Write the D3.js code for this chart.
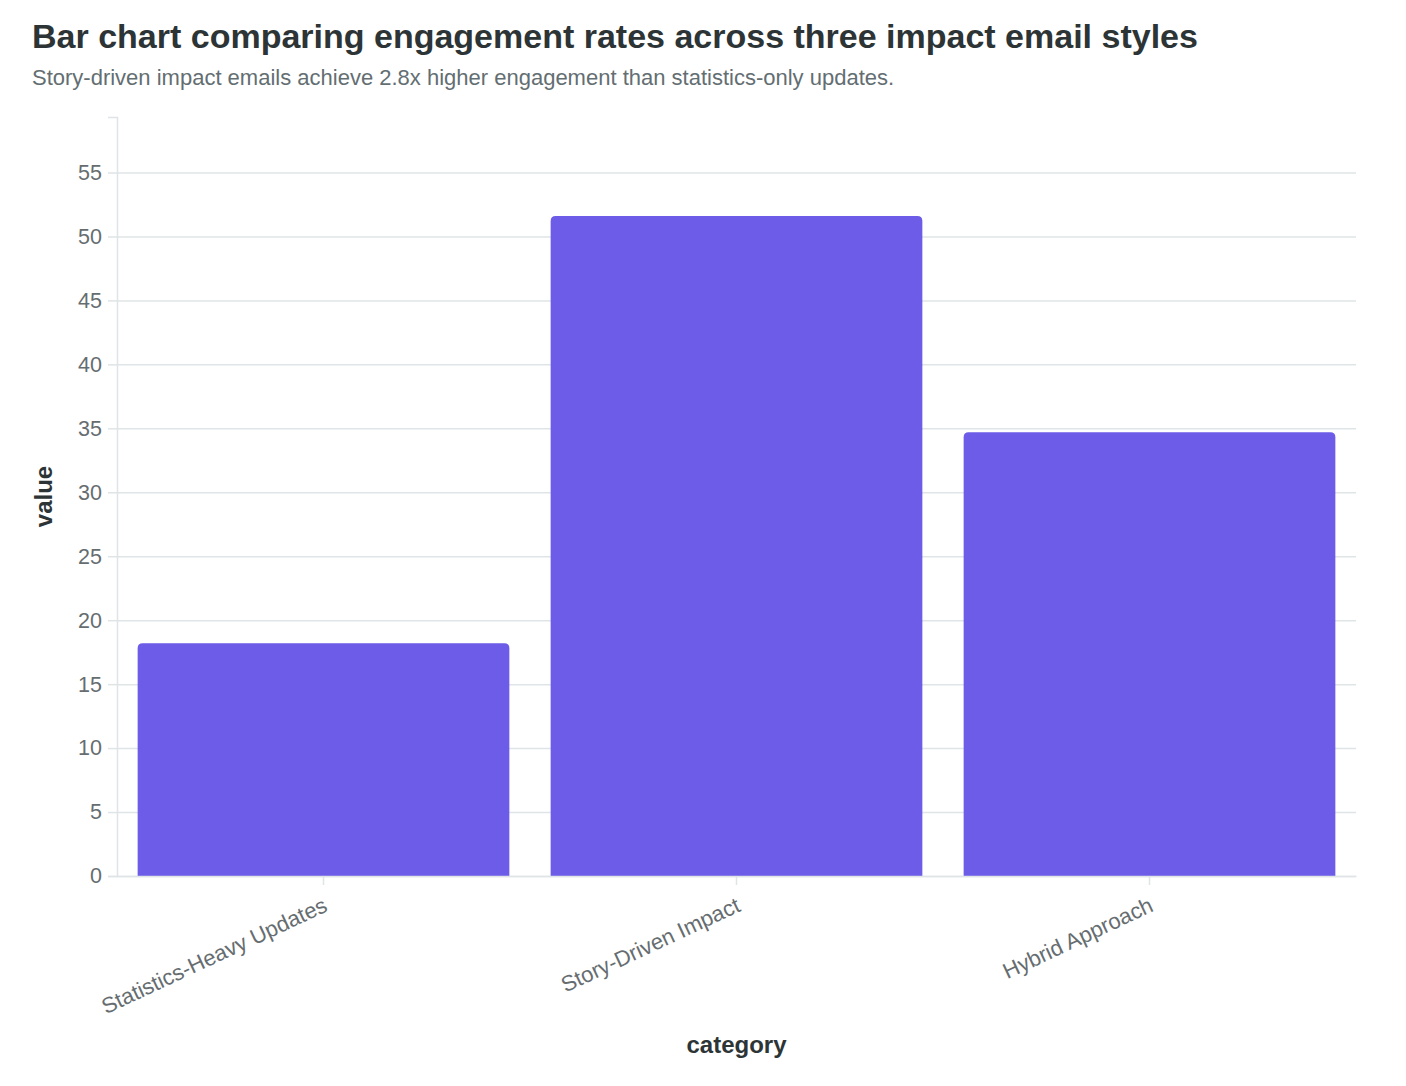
<!DOCTYPE html>
<html>
<head>
<meta charset="utf-8">
<script src="https://cdn.jsdelivr.net/npm/d3@7"></script>
<style>
  body { margin: 0; background: #fff; font-family: "Liberation Sans", Arial, sans-serif; }
  .grid line { stroke: #dfe4e6; stroke-width: 1.5; }
  .grid .domain { display: none; }
  .axis .domain { stroke: #dfe4e6; stroke-width: 1.5; }
  .axis line { stroke: #dfe4e6; stroke-width: 1.5; }
</style>
</head>
<body>
<svg id="chart"></svg>
<script>
// Chart data
const categories = ["Statistics-Heavy Updates", "Story-Driven Impact", "Hybrid Approach"];
const values = [18.2, 51.6, 34.7];
const yTicks = [0, 5, 10, 15, 20, 25, 30, 35, 40, 45, 50, 55];

const titleText = "Bar chart comparing engagement rates across three impact email styles";
const subtitleText = "Story-driven impact emails achieve 2.8x higher engagement than statistics-only updates.";

const width = 1406;
const height = 1086;
const margin = { top: 117, right: 50, bottom: 210, left: 117 };

const svg = d3.select("#chart")
  .attr("width", width)
  .attr("height", height);

const plotW = width - margin.left - margin.right;
const plotH = height - margin.top - margin.bottom;

const x = d3.scaleBand()
  .domain(categories)
  .range([margin.left, margin.left + plotW])
  .paddingInner(0.1)
  .paddingOuter(0.05);

const y = d3.scaleLinear()
  .domain([0, d3.max(values) * 1.15])
  .range([margin.top + plotH, margin.top]);

// Title and subtitle
svg.append("text")
  .attr("x", 32)
  .attr("y", 48)
  .attr("font-size", 34)
  .attr("font-weight", "bold")
  .attr("fill", "#2d3436")
  .text(titleText);

svg.append("text")
  .attr("x", 32)
  .attr("y", 85)
  .attr("font-size", 22)
  .attr("fill", "#636e72")
  .text(subtitleText);

// Gridlines
svg.append("g")
  .attr("class", "grid")
  .attr("transform", `translate(${margin.left},0)`)
  .call(d3.axisLeft(y).tickValues(yTicks).tickSize(-plotW).tickFormat(""));

// Bars with rounded top corners
const r = 5;
svg.append("g")
  .selectAll("path")
  .data(values)
  .join("path")
  .attr("fill", "#6c5ce7")
  .attr("d", (d, i) => {
    const x0 = x(categories[i]);
    const x1 = x0 + x.bandwidth();
    const y0 = y(0);
    const y1 = y(d);
    return `M${x0},${y0} V${y1 + r} Q${x0},${y1} ${x0 + r},${y1} H${x1 - r} Q${x1},${y1} ${x1},${y1 + r} V${y0} Z`;
  });

// Y axis
const yAxis = svg.append("g")
  .attr("class", "axis")
  .attr("transform", `translate(${margin.left},0)`)
  .call(d3.axisLeft(y).tickValues(yTicks).tickSize(9).tickPadding(6));

yAxis.selectAll("text")
  .attr("fill", "#666d70")
  .style("font-size", "21.5px")
  .style("font-family", "'Liberation Sans', Arial, sans-serif");

// X axis
const xAxis = svg.append("g")
  .attr("class", "axis")
  .attr("transform", `translate(0,${y(0)})`)
  .call(d3.axisBottom(x).tickSize(9).tickPadding(8).tickSizeOuter(0));

xAxis.selectAll("text")
  .attr("fill", "#666d70")
  .style("font-size", "22px")
  .style("font-family", "'Liberation Sans', Arial, sans-serif")
  .attr("text-anchor", "end")
  .attr("dx", "-0.45em")
  .attr("dy", "0.75em")
  .attr("transform", "rotate(-25)");

// Axis titles
svg.append("text")
  .attr("transform", `translate(52,${margin.top + plotH / 2}) rotate(-90)`)
  .attr("text-anchor", "middle")
  .attr("font-size", 24)
  .attr("font-weight", "bold")
  .attr("fill", "#2d3436")
  .text("value");

svg.append("text")
  .attr("x", margin.left + plotW / 2)
  .attr("y", 1053)
  .attr("text-anchor", "middle")
  .attr("font-size", 24)
  .attr("font-weight", "bold")
  .attr("fill", "#2d3436")
  .text("category");
</script>
</body>
</html>
